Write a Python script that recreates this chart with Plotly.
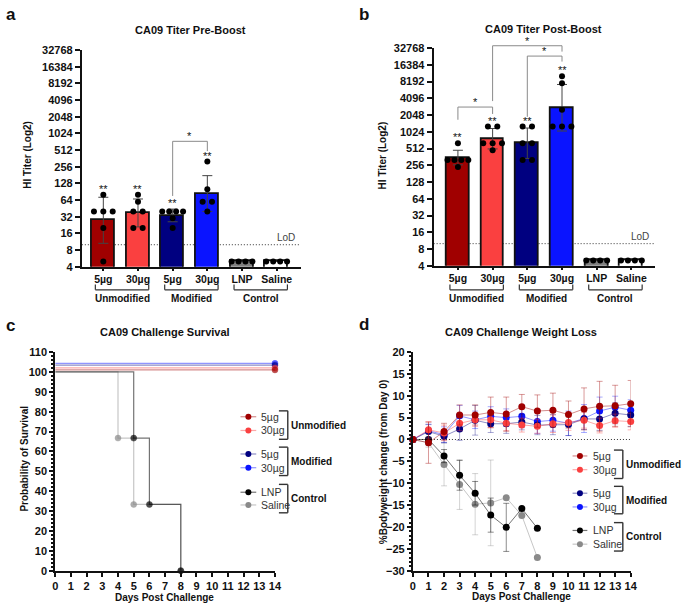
import math

import plotly.graph_objects as go

W, H = 685, 609
FONT = "Liberation Sans"
INK = "#111111"

# ---- titer data (panels a, b) ----
bar_labels = ["5µg", "30µg", "5µg", "30µg", "LNP", "Saline"]
group_names = ["Unmodified", "Modified", "Control"]
group_members = [(0, 1), (2, 3), (4, 5)]

pre_gmt = [28, 38, 33, 82, 5, 5]
pre_upper = [72, 67, 44, 177, None, None]
pre_lower = [10.6, 21, 26, 40, None, None]
pre_points = [
    [5, 20, 40, 40, 40, 80],
    [20, 20, 40, 40, 60, 80],
    [20, 30, 40, 40, 40, 40],
    [40, 60, 60, 100, 320],
    [5, 5, 5, 5],
    [5, 5, 5, 5],
]
pre_stars = ["**", "**", "**", "**", "", ""]
pre_tests = [(2, 3, "*")]

post_gmt = [343, 771, 640, 2720, 5, 5]
post_upper = [478, 1176, 1200, 7280, None, None]
post_lower = [261, 505, 340, 1060, None, None]
post_points = [
    [240, 320, 320, 320, 320, 640],
    [480, 640, 640, 640, 1280, 1280],
    [320, 320, 640, 640, 1280, 1280],
    [1280, 1280, 1280, 2560, 7680, 10240],
    [5, 5, 5, 5],
    [5, 5, 5, 5],
]
post_stars = ["**", "**", "**", "**", "", ""]
post_tests = [(0, 1, "*"), (1, 3, "*"), (2, 3, "*")]

lod = 10
titer_ticks = [4, 8, 16, 32, 64, 128, 256, 512, 1024, 2048, 4096, 8192, 16384, 32768]

# ---- challenge data (panels c, d) ----
days = list(range(15))
surv_days = [[0, 14], [0, 14], [0, 14], [0, 14], [0, 5, 6, 8], [0, 4, 5, 8]]
surv_pct = [
    [100, 100], [100, 100], [100, 100], [100, 100],
    [100, 66.7, 33.3, 0], [100, 66.7, 33.3, 0],
]

weight_mean = [
    [0, -0.75, 1.8, 5.6, 5.6, 6.2, 5.8, 7.5, 6.5, 6.7, 5.7, 7.0, 7.6, 7.7, 8.2],
    [0, 2.2, 1.5, 3.7, 4.5, 4.5, 3.7, 3.3, 3.0, 3.6, 3.9, 4.4, 3.2, 4.3, 4.1],
    [0, 1.8, 0.75, 2.4, 4.4, 3.6, 3.6, 4.0, 3.3, 3.4, 3.4, 4.7, 4.7, 6.0, 5.6],
    [0, 2.0, 1.1, 5.4, 4.5, 5.3, 5.0, 5.3, 4.1, 4.4, 3.7, 4.8, 6.5, 7.4, 6.7],
    [0, 0, -3.8, -8.2, -12.3, -17.3, -20.1, -15.8, -20.3],
    [0, -0.75, -5.7, -10.3, -14.8, -14.5, -13.3, -17.4, -27.0],
]
weight_sd = [
    [0, 4.7, 1.9, 2.3, 2.3, 3.5, 3.9, 2.8, 3.7, 3.9, 3.1, 4.8, 5.7, 4.7, 5.3],
    [0, 1.9, 1.8, 1.7, 1.5, 1.8, 1.7, 1.6, 1.6, 2.0, 1.8, 1.8, 1.7, 1.5, 1.9],
    [0, 1.6, 1.5, 2.6, 3.4, 2.0, 2.2, 1.8, 2.2, 2.3, 2.5, 2.4, 2.6, 2.4, 2.6],
    [0, 1.5, 1.8, 2.4, 2.0, 2.2, 2.0, 2.6, 2.7, 2.5, 2.8, 3.2, 3.2, 2.5, 2.4],
    [0, 0.5, 1.5, 3.4, 2.7, 3.9, 5.5, None, None],
    [0, 1.0, 4.9, 5.7, 7.0, 9.8, None, None, None],
]

# ---- styles ----
bar_fill = ["#a00000", "#fa4040", "#000080", "#0a14ff", "#808080", "#ffffff"]
dot_color = ["#a00000", "#fa4040", "#000080", "#0a14ff", "#000000", "#8a8a8a"]
line_rgba = [
    "rgba(160,0,0,0.45)", "rgba(250,64,64,0.45)", "rgba(0,0,128,0.45)",
    "rgba(10,20,255,0.45)", "rgba(0,0,0,0.55)", "rgba(128,128,128,0.45)",
]
err_rgba = [
    "rgba(160,0,0,0.4)", "rgba(250,64,64,0.4)", "rgba(0,0,128,0.35)",
    "rgba(10,20,255,0.35)", "rgba(0,0,0,0.45)", "rgba(128,128,128,0.35)",
]
surv_lift = [1, 2, 3.4, 4.3, 0, 0]  # prism-style nudge so the 100% curves stay visible
draw_order = [5, 4, 3, 2, 1, 0]

# pixel boxes of the four plot areas: x0, x1, y0 (top), y1 (bottom)
box_a = (80, 302, 45, 266)
box_b = (437, 662, 43, 265)
box_c = (53, 276, 353, 576)
box_d = (416, 637, 353, 576)
xr_a = (-0.62, 5.69)
xr_b = (-0.70, 5.69)
yr_titer = (math.log10(4), math.log10(32768))

pre_levels = [(76, 738, 491)]
post_levels = [(1690, 2860, 2150), (3660, 36200, 28400), (1910, 23600, 18800)]

tickfont = dict(family=FONT, size=11, color=INK, weight="bold")
shapes, notes = [], []


def to_pix(box, xr, yr, xv, yv, log=False):
    x0, x1, y0, y1 = box
    if log:
        yv = math.log10(yv)
    X = x0 + (xv - xr[0]) / (xr[1] - xr[0]) * (x1 - x0)
    Y = y1 - (yv - yr[0]) / (yr[1] - yr[0]) * (y1 - y0)
    return X, Y


def seg(xa, ya, xb, yb, color=INK, width=1.2, dash=None, layer="above"):
    shapes.append(dict(type="line", xref="paper", yref="paper", layer=layer,
                       x0=xa / W, y0=1 - ya / H, x1=xb / W, y1=1 - yb / H,
                       line=dict(color=color, width=width, dash=dash)))


def dot(x, y, color, r=3):
    shapes.append(dict(type="circle", xref="paper", yref="paper",
                       xsizemode="pixel", ysizemode="pixel",
                       xanchor=x / W, yanchor=1 - y / H, x0=-r, x1=r, y0=-r, y1=r,
                       fillcolor=color, line=dict(width=0)))


def label(x, y, s, size=11, bold=False, xa="center", ya="middle", angle=0, color=INK):
    notes.append(dict(text=s, x=x / W, y=1 - y / H, xref="paper", yref="paper",
                      showarrow=False, xanchor=xa, yanchor=ya, textangle=angle,
                      font=dict(family=FONT, size=size, color=color,
                                weight="bold" if bold else "normal")))


def domains(box):
    x0, x1, y0, y1 = box
    return [x0 / W, x1 / W], [1 - y1 / H, 1 - y0 / H]


def spread(vals):
    offs = []
    for k, v in enumerate(vals):
        same = [j for j, w in enumerate(vals) if w == v]
        n = len(same)
        step = min(0.27, 0.6 / (n - 1)) if n > 1 else 0
        offs.append((same.index(k) - (n - 1) / 2) * step)
    return offs


fig = go.Figure()


def titer_panel(xa, ya, box, xr, gmt, upper, lower, points, stars, tests, levels):
    xs = list(range(len(bar_labels)))
    fig.add_trace(go.Bar(
        x=xs, y=gmt, xaxis=xa, yaxis=ya, width=0.66, showlegend=False,
        marker=dict(color=bar_fill, line=dict(color=INK, width=1.8)),
        error_y=dict(type="data", symmetric=False,
                     array=[u - g if u else None for u, g in zip(upper, gmt)],
                     arrayminus=[g - lo if lo else None for lo, g in zip(lower, gmt)],
                     color="#444444", thickness=1, width=5),
    ))
    dx, dy = [], []
    for i, vals in enumerate(points):
        for v, off in zip(vals, spread(vals)):
            dx.append(i + off)
            dy.append(v)
    fig.add_trace(go.Scatter(x=dx, y=dy, mode="markers", xaxis=xa, yaxis=ya,
                             marker=dict(color="black", size=6), showlegend=False,
                             cliponaxis=False))
    for i, s in enumerate(stars):
        if s:
            top = max([upper[i]] + points[i])
            X, Y = to_pix(box, xr, yr_titer, i, top, log=True)
            label(X, Y - 6, s, size=11)
    for (i, j, s), (lo_i, top, lo_j) in zip(tests, levels):
        xi, yi = to_pix(box, xr, yr_titer, i, lo_i, log=True)
        xj, yj = to_pix(box, xr, yr_titer, j, lo_j, log=True)
        _, yt = to_pix(box, xr, yr_titer, i, top, log=True)
        for a, b, c, d in [(xi, yi, xi, yt), (xi, yt, xj, yt), (xj, yt, xj, yj)]:
            seg(a, b, c, d, color="#8a8a8a", width=1)
        label((xi + xj) / 2, yt - 5, s, size=11)
    _, yl = to_pix(box, xr, yr_titer, 0, lod, log=True)
    seg(box[0], yl, box[1], yl, color="#333333", width=1, dash="1px,2px", layer="below")
    label(box[1] - 4, yl - 7, "LoD", size=10, xa="right", color="#444444")
    for (i, j), name in zip(group_members, group_names):
        xl, _ = to_pix(box, xr, yr_titer, i - 0.23, 4, log=True)
        xg, _ = to_pix(box, xr, yr_titer, j + 0.31, 4, log=True)
        seg(xl, 284, xl, 289.5, color="#333333")
        seg(xl, 289.5, xg, 289.5, color="#333333")
        seg(xg, 289.5, xg, 284, color="#333333")
        label((xl + xg) / 2, 298, name, size=10, bold=True)


titer_panel("x", "y", box_a, xr_a, pre_gmt, pre_upper, pre_lower, pre_points,
            pre_stars, pre_tests, pre_levels)
titer_panel("x2", "y2", box_b, xr_b, post_gmt, post_upper, post_lower, post_points,
            post_stars, post_tests, post_levels)

# survival curves (c)
for k in draw_order:
    n = len(surv_days[k])
    sizes = [0] * (n - 1) + [6] if k < 4 else [0] + [6] * (n - 1)
    fig.add_trace(go.Scatter(
        x=surv_days[k], y=[p + surv_lift[k] for p in surv_pct[k]],
        mode="lines+markers", xaxis="x3", yaxis="y3", showlegend=False,
        line=dict(shape="hv", color=line_rgba[k], width=1.2),
        marker=dict(size=sizes, color=dot_color[k]), cliponaxis=False,
    ))

# weight change (d)
for k in draw_order:
    n = len(weight_mean[k])
    fig.add_trace(go.Scatter(
        x=days[:n], y=weight_mean[k], mode="lines+markers",
        xaxis="x4", yaxis="y4", showlegend=False, cliponaxis=False,
        error_y=dict(type="data", array=weight_sd[k], color=err_rgba[k],
                     thickness=1, width=3),
        line=dict(color=line_rgba[k], width=1),
        marker=dict(size=7, color=dot_color[k]),
    ))
_, y0d = to_pix(box_d, (0, 14), (-30, 20), 0, 0)
seg(box_d[0], y0d, box_d[1], y0d, color="#333333", width=1, dash="1px,2px", layer="below")


def legend(xl0, xl1, xt, rows, brackets, xb):
    for k, y in enumerate(rows):
        seg(xl0, y, xl1, y, color=line_rgba[k], width=1.2)
        dot((xl0 + xl1) / 2, y, dot_color[k], 3)
        label(xt, y, bar_labels[k], size=10.5, xa="left", color="#333333")
    for name, (ya, yb) in zip(group_names, brackets):
        seg(xb - 9, ya, xb, ya, color="#333333", width=1.4)
        seg(xb, ya, xb, yb, color="#333333", width=1.4)
        seg(xb - 9, yb, xb, yb, color="#333333", width=1.4)
        label(xb + 1, (ya + yb) / 2, name, size=10, bold=True, xa="left")


legend(241, 257, 260, [419, 433, 457, 471, 496, 509],
       [(413, 442), (450, 479), (488, 517)], 289)
legend(578, 593, 597, [459, 473, 497, 511, 535, 549],
       [(453, 482), (490, 518), (527, 556)], 629)

# titles, panel letters, axis titles
label(190, 24, "CA09 Titer Pre-Boost", size=11, bold=True)
label(549, 23, "CA09 Titer Post-Boost", size=11, bold=True)
label(164, 333, "CA09 Challenge Survival", size=11, bold=True)
label(526, 333, "CA09 Challenge Weight Loss", size=11, bold=True)
label(8, 9, "a", size=17, bold=True)
label(366, 9, "b", size=17, bold=True)
label(8, 326, "c", size=17, bold=True)
label(366, 325, "d", size=17, bold=True)
label(24, 152, "HI Titer (Log2)", size=10, bold=True, angle=-90)
label(385, 152, "HI Titer (Log2)", size=10, bold=True, angle=-90)
label(22, 462, "Probability of Survival", size=10, bold=True, angle=-90)
label(386, 465, "%Bodyweight change (from Day 0)", size=10, bold=True, angle=-90)
label(164, 603, "Days Post Challenge", size=10, bold=True)
label(526, 602, "Days Post Challenge", size=10, bold=True)

axis_common = dict(showline=True, linewidth=2, linecolor=INK, showgrid=False,
                   zeroline=False, ticks="outside", ticklen=4, tickwidth=1.5,
                   tickcolor=INK, tickfont=tickfont)

layout_axes = {}
for n, box, xr in [("", box_a, xr_a), ("2", box_b, xr_b)]:
    xd, yd = domains(box)
    layout_axes["xaxis" + n] = dict(axis_common, domain=xd, anchor="y" + n, range=list(xr),
                                    tickvals=list(range(len(bar_labels))), ticktext=bar_labels,
                                    tickfont=dict(tickfont, size=10.5), ticklen=2)
    layout_axes["yaxis" + n] = dict(axis_common, domain=yd, anchor="x" + n, type="log",
                                    range=list(yr_titer), tickvals=titer_ticks,
                                    ticktext=[str(t) for t in titer_ticks], ticklen=5)

xd, yd = domains(box_c)
layout_axes["xaxis3"] = dict(axis_common, domain=xd, anchor="y3", range=[0, 14], dtick=1, tick0=0)
layout_axes["yaxis3"] = dict(axis_common, domain=yd, anchor="x3", range=[0, 110], dtick=10, tick0=0,
                             minor=dict(ticks="outside", dtick=2, ticklen=2, tickcolor=INK))
xd, yd = domains(box_d)
layout_axes["xaxis4"] = dict(axis_common, domain=xd, anchor="y4", range=[0, 14], dtick=1, tick0=0)
layout_axes["yaxis4"] = dict(axis_common, domain=yd, anchor="x4", range=[-30, 20], dtick=5, tick0=0,
                             minor=dict(ticks="outside", dtick=1, ticklen=2, tickcolor=INK))

fig.update_layout(
    width=W, height=H, margin=dict(l=0, r=0, t=0, b=0),
    paper_bgcolor="white", plot_bgcolor="white", showlegend=False,
    font=dict(family=FONT, color=INK), bargap=0,
    shapes=shapes, annotations=notes, **layout_axes,
)

# the page's default body margin would push the 685x609 figure off the window
fig.write_html("out.html", config={"displayModeBar": False},
               post_script="document.body.style.margin = '0';")
